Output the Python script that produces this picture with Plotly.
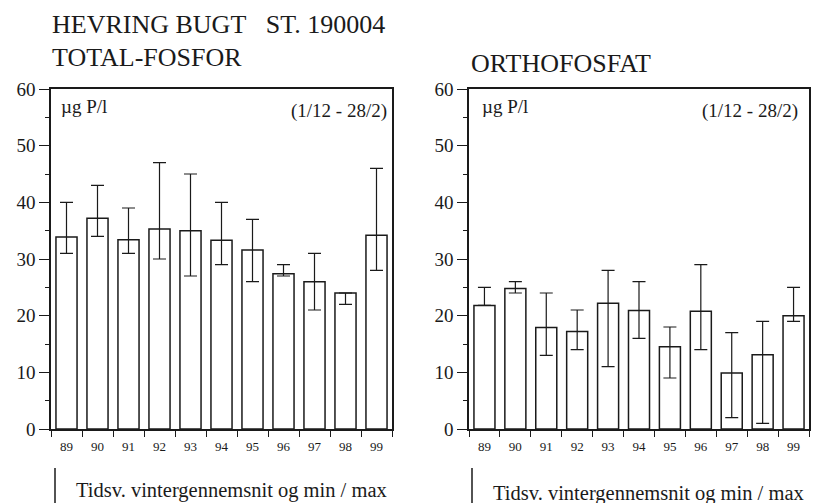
import plotly.graph_objects as go

W, H = 819, 503

years = ["89", "90", "91", "92", "93", "94", "95", "96", "97", "98", "99"]

tp_mean = [33.9, 37.2, 33.4, 35.3, 35.0, 33.3, 31.6, 27.4, 26.0, 24.0, 34.2]
tp_min = [31, 34, 31, 30, 27, 29, 26, 27, 21, 22, 28]
tp_max = [40, 43, 39, 47, 45, 40, 37, 29, 31, 24, 46]

op_mean = [21.8, 24.8, 17.9, 17.2, 22.2, 20.9, 14.5, 20.8, 9.9, 13.1, 20.0]
op_min = [21.8, 24, 13, 14, 11, 16, 9, 14, 2, 1, 19]
op_max = [25, 26, 24, 21, 28, 26, 18, 29, 17, 19, 25]

y_ticks = [0, 10, 20, 30, 40, 50, 60]

FONT = "Liberation Serif, Times New Roman, serif"
INK = "#1a1a1a"


def px(x):
    return x / W


def py(y):
    return 1 - y / H


def bar_trace(mean, mn, mx, xa, ya):
    plus = [max(b - a, 0) for a, b in zip(mean, mx)]
    minus = [max(a - b, 0) for a, b in zip(mean, mn)]
    return go.Bar(
        x=years, y=mean, xaxis=xa, yaxis=ya,
        marker=dict(color="white", line=dict(color=INK, width=1.5)),
        error_y=dict(type="data", symmetric=False, array=plus, arrayminus=minus,
                     color=INK, thickness=1.2, width=6.5),
        showlegend=False,
    )


fig = go.Figure()
fig.add_trace(bar_trace(tp_mean, tp_min, tp_max, "x", "y"))
fig.add_trace(bar_trace(op_mean, op_min, op_max, "x2", "y2"))

ydom = [py(429), py(89)]

xcommon = dict(
    type="category", showline=True, linecolor=INK, linewidth=1.5, mirror=True,
    ticks="outside", tickson="boundaries", ticklen=6, tickwidth=1.2, tickcolor=INK,
    tickfont=dict(family=FONT, size=13, color=INK), ticklabelstandoff=5,
    showgrid=False, zeroline=False, fixedrange=True, automargin=False,
)
ycommon = dict(
    range=[0, 60], tickvals=y_ticks, showline=True, linecolor=INK, linewidth=1.5,
    mirror=True, ticks="outside", ticklen=10, tickwidth=1.2, tickcolor=INK,
    tickfont=dict(family=FONT, size=19, color=INK), showgrid=False, zeroline=False,
    automargin=False, fixedrange=True,
    minor=dict(dtick=5, ticks="outside", ticklen=4, tickwidth=1.2, tickcolor=INK,
               showgrid=False),
)

fig.update_layout(
    width=W, height=H,
    margin=dict(l=0, r=0, t=0, b=0, pad=0, autoexpand=False),
    paper_bgcolor="white", plot_bgcolor="white",
    bargap=0.32,
    xaxis=dict(domain=[px(51), px(392)], anchor="y", **xcommon),
    yaxis=dict(domain=ydom, anchor="x", **ycommon),
    xaxis2=dict(domain=[px(469), px(809)], anchor="y2", **xcommon),
    yaxis2=dict(domain=ydom, anchor="x2", **ycommon),
    font=dict(family=FONT, color=INK),
)

ann = []


def text(s, x, y, size, xanchor="left"):
    ann.append(dict(text=s, x=px(x), y=py(y), xref="paper", yref="paper",
                    xanchor=xanchor, yanchor="middle", showarrow=False,
                    font=dict(family=FONT, size=size, color=INK)))


text("HEVRING BUGT\u00a0\u00a0 ST. 190004", 50, 25, 26)
text("TOTAL-FOSFOR", 50, 57, 26)
text("ORTHOFOSFAT", 469, 64, 26)

text("µg P/l", 59, 106, 19)
text("(1/12 - 28/2)", 389, 111, 19, "right")
text("µg P/l", 480, 106, 19)
text("(1/12 - 28/2)", 800, 111, 19, "right")

text("Tidsv. vintergennemsnit og min / max", 74, 490, 20.5)
text("Tidsv. vintergennemsnit og min / max", 491, 493, 20.5)

fig.update_layout(annotations=ann)

for x0 in (55, 472):
    fig.add_shape(type="line", xref="paper", yref="paper",
                  x0=px(x0), x1=px(x0), y0=py(468), y1=py(503),
                  line=dict(color=INK, width=1.5))

post = "document.body.style.margin='0';document.body.style.overflow='hidden';"

fig.write_html("out.html", post_script=post, config={"displayModeBar": False})
